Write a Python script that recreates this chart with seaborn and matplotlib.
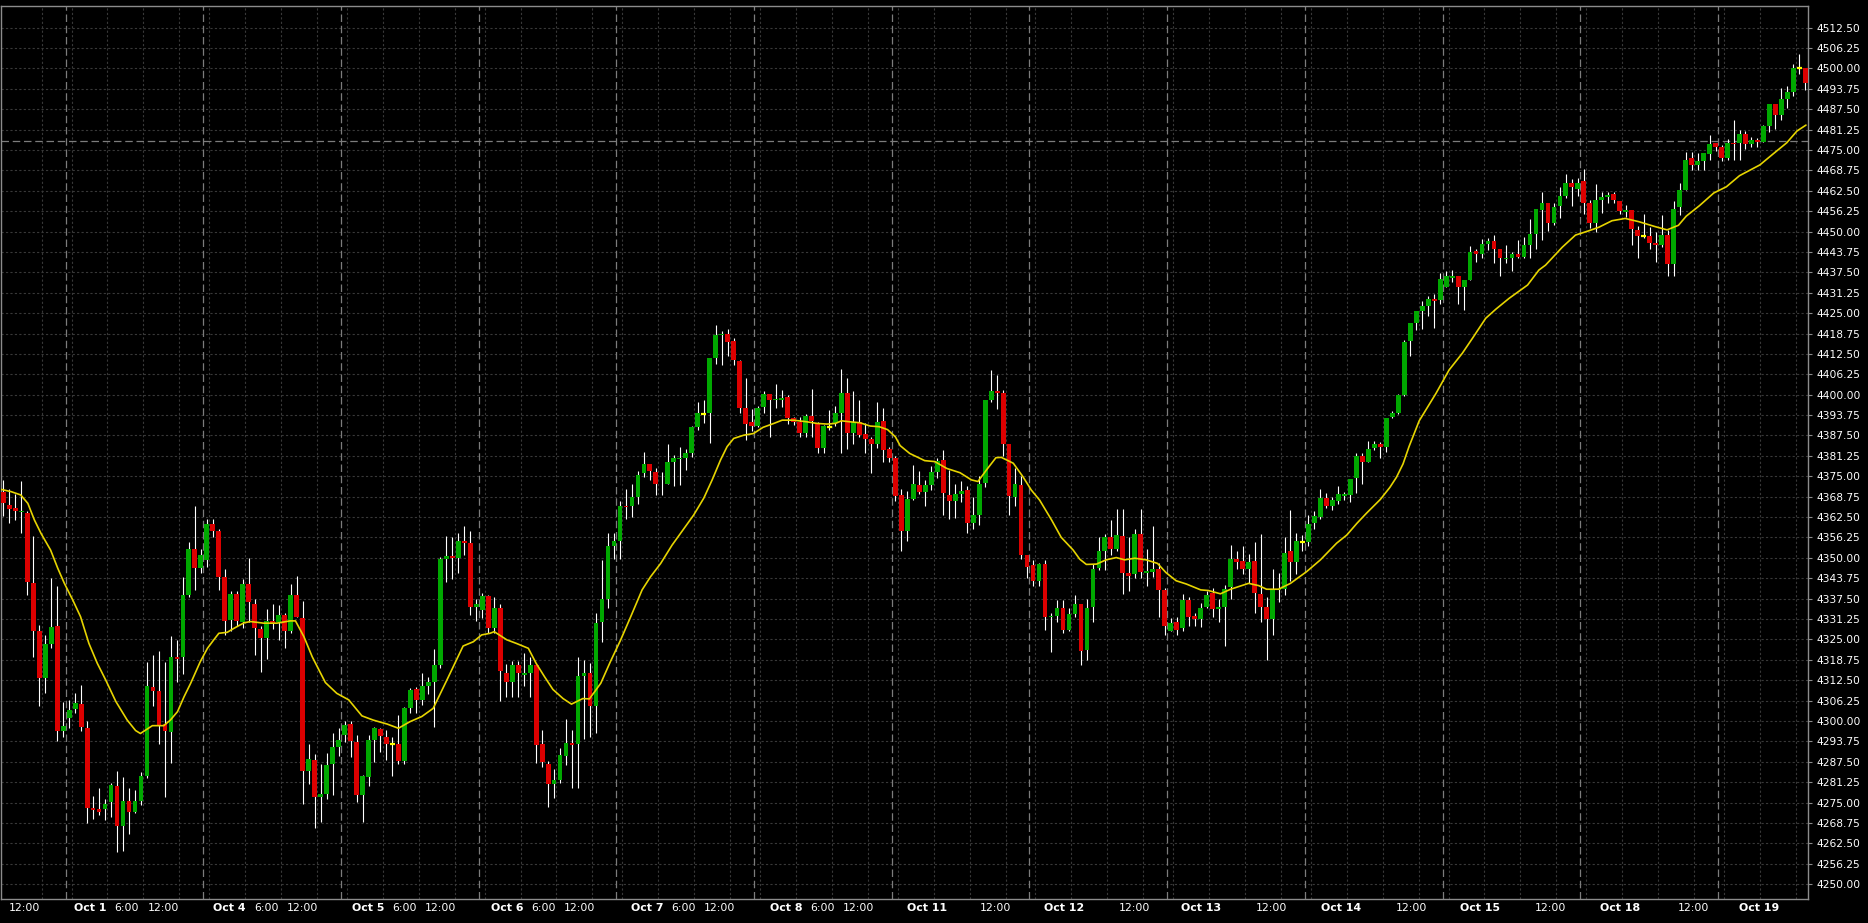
# ============================================================
# HOURLY CANDLES + MOVING AVERAGE (dark terminal style)
# ============================================================

import numpy as np
import pandas as pd
import matplotlib
matplotlib.use("Agg")
import matplotlib.pyplot as plt
import seaborn as sns

# ── 1. DATA (one value per hourly bar) ──
opens = [
    4370.25, 4366.25, 4365.25, 4364.0, 4363.75, 4342.25, 4327.5, 4313.25, 4323.5, 4329.0,
    4297.0, 4301.0, 4303.75, 4305.25, 4298.0, 4273.5, 4273.0, 4273.0, 4275.25, 4280.0,
    4267.75, 4275.5, 4272.0, 4275.5, 4283.25, 4310.5, 4309.25, 4299.0, 4296.75, 4319.75,
    4319.5, 4338.5, 4352.75, 4347.0, 4349.25, 4360.5, 4358.25, 4344.0, 4331.0, 4339.0,
    4330.5, 4342.0, 4336.0, 4328.25, 4325.5, 4330.75, 4330.25, 4332.5, 4327.5, 4338.75,
    4331.5, 4284.75, 4288.0, 4276.75, 4277.75, 4286.75, 4292.0, 4295.75, 4299.0, 4293.5,
    4277.25, 4283.0, 4294.25, 4297.5, 4295.0, 4293.0, 4293.0, 4287.75, 4304.0, 4309.75,
    4306.5, 4310.75, 4312.0, 4317.25, 4349.75, 4350.5, 4350.0, 4355.25, 4354.5, 4335.0,
    4334.0, 4338.25, 4328.5, 4334.75, 4314.75, 4312.0, 4317.25, 4314.0, 4314.75, 4317.25,
    4293.0, 4287.0, 4280.75, 4282.0, 4289.25, 4293.25, 4293.0, 4313.75, 4314.75, 4304.5,
    4330.5, 4337.5, 4353.75, 4355.25, 4366.0, 4365.75, 4368.75, 4376.0, 4378.75, 4376.25,
    4372.5, 4372.75, 4379.25, 4380.25, 4380.5, 4382.0, 4390.0, 4394.0, 4394.25, 4411.25,
    4418.25, 4418.75, 4416.5, 4410.25, 4396.0, 4391.5, 4390.5, 4396.25, 4400.25, 4398.25,
    4398.5, 4399.25, 4392.75, 4391.5, 4388.25, 4393.5, 4391.25, 4383.75, 4390.25, 4391.25,
    4394.25, 4400.5, 4388.25, 4391.5, 4388.0, 4386.5, 4385.0, 4392.0, 4383.25, 4380.75,
    4369.25, 4358.25, 4368.0, 4372.25, 4370.25, 4372.25, 4376.25, 4380.0, 4369.25, 4367.5,
    4369.5, 4370.75, 4360.75, 4363.25, 4373.0, 4398.5, 4401.25, 4400.5, 4385.0, 4368.75,
    4372.25, 4351.0, 4347.75, 4343.0, 4348.25, 4331.75, 4332.25, 4334.75, 4328.0, 4332.75,
    4336.0, 4321.75, 4335.0, 4347.0, 4352.25, 4356.25, 4352.75, 4356.75, 4345.25, 4345.0,
    4357.25, 4345.5, 4345.75, 4346.75, 4340.25, 4327.75, 4330.5, 4328.5, 4337.25, 4332.25,
    4331.25, 4335.0, 4339.25, 4334.25, 4335.0, 4341.0, 4349.75, 4349.0, 4346.75, 4349.0,
    4339.0, 4335.0, 4331.25, 4340.25, 4340.5, 4352.0, 4348.75, 4355.0, 4355.0, 4360.75,
    4362.5, 4368.5, 4365.75, 4367.5, 4369.0, 4369.25, 4374.5, 4381.25, 4379.5, 4383.75,
    4385.0, 4384.0, 4393.25, 4394.5, 4400.0, 4416.5, 4422.0, 4425.75, 4427.25, 4429.25,
    4429.0, 4433.0, 4435.75, 4436.5, 4433.0, 4435.0, 4444.0, 4443.25, 4446.25, 4447.0,
    4444.75, 4441.5, 4442.0, 4443.0, 4442.25, 4445.75, 4449.25, 4456.5, 4458.75, 4452.75,
    4457.75, 4460.75, 4465.0, 4463.0, 4465.5, 4458.75, 4452.75, 4459.75, 4460.5, 4461.5,
    4459.25, 4456.0, 4456.5, 4450.5, 4448.5, 4448.5, 4446.5, 4445.75, 4449.0, 4440.0,
    4457.5, 4462.75, 4472.5, 4470.25, 4471.5, 4473.75, 4477.0, 4475.75, 4472.5, 4477.25,
    4477.0, 4480.0, 4476.75, 4478.0, 4477.5, 4482.25, 4489.0, 4485.75, 4490.5, 4492.75,
    4500.0, 4500.0,
]
highs = [
    4374.0, 4371.0, 4369.5, 4373.5, 4364.25, 4356.75, 4329.5, 4326.5, 4343.75, 4341.5,
    4305.75, 4306.5, 4308.75, 4311.0, 4300.0, 4277.0, 4279.5, 4276.0, 4281.0, 4284.75,
    4283.0, 4279.5, 4279.0, 4284.5, 4318.25, 4320.25, 4321.5, 4318.25, 4326.0, 4324.75,
    4344.25, 4354.75, 4366.0, 4352.75, 4362.0, 4362.0, 4358.75, 4346.75, 4339.75, 4339.75,
    4343.5, 4350.0, 4337.5, 4329.25, 4334.25, 4336.0, 4335.5, 4333.25, 4342.0, 4344.5,
    4336.75, 4293.0, 4290.0, 4286.75, 4290.25, 4296.5, 4297.75, 4300.0, 4300.0, 4295.75,
    4283.5, 4295.75, 4298.25, 4297.75, 4297.25, 4295.0, 4301.75, 4304.25, 4310.0, 4310.5,
    4314.75, 4313.5, 4322.0, 4350.25, 4356.75, 4356.5, 4357.5, 4359.75, 4358.25, 4337.5,
    4339.25, 4338.75, 4338.0, 4336.0, 4317.5, 4318.5, 4318.5, 4321.0, 4319.75, 4317.5,
    4297.25, 4287.75, 4285.25, 4291.75, 4300.75, 4297.25, 4319.5, 4318.75, 4317.75, 4333.0,
    4349.5, 4357.5, 4357.75, 4367.5, 4371.25, 4372.75, 4376.5, 4382.5, 4378.75, 4377.5,
    4376.25, 4384.75, 4381.5, 4384.0, 4383.25, 4390.5, 4397.75, 4398.5, 4411.25, 4421.25,
    4419.5, 4420.25, 4417.25, 4410.75, 4405.0, 4395.75, 4396.5, 4401.25, 4400.25, 4403.25,
    4401.5, 4400.0, 4393.25, 4393.25, 4394.0, 4401.75, 4391.75, 4390.75, 4395.25, 4396.5,
    4407.75, 4405.25, 4401.25, 4398.5, 4391.25, 4387.0, 4397.75, 4396.0, 4384.0, 4381.25,
    4371.25, 4370.5, 4378.5, 4376.75, 4374.0, 4378.25, 4380.5, 4383.0, 4377.0, 4372.75,
    4373.5, 4372.0, 4368.75, 4375.0, 4398.5, 4407.5, 4406.0, 4401.5, 4385.0, 4377.5,
    4375.0, 4351.0, 4349.5, 4348.5, 4349.25, 4333.25, 4337.0, 4337.0, 4334.5, 4338.5,
    4336.0, 4337.5, 4348.25, 4356.5, 4357.25, 4361.5, 4365.0, 4365.0, 4356.5, 4359.0,
    4365.0, 4352.75, 4359.75, 4348.5, 4340.75, 4331.5, 4331.75, 4339.0, 4338.0, 4333.25,
    4336.25, 4339.75, 4340.75, 4337.5, 4341.75, 4354.0, 4352.0, 4353.75, 4351.25, 4355.0,
    4357.25, 4338.0, 4346.5, 4345.25, 4356.5, 4364.75, 4357.75, 4357.0, 4363.25, 4364.5,
    4371.25, 4369.75, 4368.75, 4372.0, 4370.25, 4374.25, 4382.25, 4382.25, 4385.75, 4385.75,
    4385.5, 4393.0, 4395.0, 4400.25, 4416.75, 4422.0, 4425.75, 4428.75, 4430.25, 4430.75,
    4437.25, 4437.75, 4438.25, 4436.5, 4435.0, 4445.5, 4444.5, 4447.75, 4448.0, 4449.0,
    4444.75, 4445.75, 4443.75, 4447.5, 4448.25, 4453.75, 4456.75, 4462.0, 4458.75, 4458.75,
    4463.5, 4467.5, 4466.0, 4466.25, 4469.25, 4459.75, 4464.5, 4462.0, 4462.0, 4462.25,
    4459.25, 4458.25, 4456.5, 4451.75, 4455.25, 4451.25, 4450.0, 4455.0, 4450.5, 4459.25,
    4464.75, 4474.5, 4474.5, 4474.0, 4474.0, 4479.5, 4477.25, 4476.5, 4478.25, 4484.25,
    4481.0, 4480.75, 4479.0, 4478.5, 4482.75, 4489.0, 4489.0, 4494.0, 4494.5, 4501.25,
    4504.5, 4500.0,
]
lows = [
    4362.75, 4360.75, 4361.5, 4357.75, 4338.5, 4319.75, 4304.5, 4308.75, 4322.5, 4294.0,
    4295.0, 4298.0, 4302.5, 4297.0, 4268.75, 4270.0, 4271.25, 4269.75, 4270.75, 4260.0,
    4260.25, 4265.5, 4271.75, 4274.25, 4282.5, 4304.5, 4293.0, 4276.75, 4287.25, 4312.0,
    4314.5, 4338.0, 4340.25, 4345.5, 4347.25, 4356.5, 4340.25, 4326.5, 4327.75, 4329.0,
    4328.5, 4330.25, 4320.25, 4315.0, 4319.0, 4328.25, 4324.75, 4322.5, 4327.0, 4331.75,
    4274.75, 4280.75, 4267.25, 4269.0, 4276.0, 4277.25, 4289.25, 4293.5, 4289.0, 4275.25,
    4269.0, 4280.0, 4287.5, 4290.5, 4288.0, 4283.25, 4287.0, 4287.0, 4302.5, 4302.5,
    4305.0, 4308.25, 4298.25, 4316.25, 4342.75, 4343.5, 4345.5, 4351.0, 4332.5, 4330.75,
    4331.5, 4327.0, 4327.0, 4306.25, 4307.25, 4307.25, 4307.25, 4310.75, 4307.5, 4287.25,
    4286.0, 4273.75, 4276.5, 4281.0, 4286.5, 4279.5, 4279.5, 4294.5, 4295.25, 4296.25,
    4324.25, 4334.5, 4349.75, 4349.75, 4362.0, 4362.5, 4366.5, 4374.75, 4373.75, 4369.25,
    4369.25, 4372.5, 4372.0, 4372.25, 4377.0, 4381.0, 4389.25, 4391.25, 4385.25, 4409.5,
    4409.25, 4411.75, 4409.0, 4394.25, 4386.0, 4388.75, 4390.0, 4394.25, 4387.0, 4396.0,
    4396.25, 4391.0, 4390.75, 4387.0, 4387.0, 4387.0, 4382.0, 4382.0, 4389.25, 4390.5,
    4382.25, 4383.5, 4384.75, 4387.0, 4382.0, 4376.0, 4383.75, 4379.25, 4379.5, 4367.5,
    4352.25, 4355.25, 4367.75, 4369.5, 4366.0, 4370.75, 4374.5, 4363.25, 4362.0, 4362.25,
    4367.0, 4357.75, 4359.0, 4360.0, 4371.75, 4397.75, 4395.5, 4381.25, 4363.25, 4366.0,
    4349.75, 4343.75, 4341.5, 4341.5, 4328.0, 4321.25, 4330.5, 4327.0, 4327.5, 4332.0,
    4317.25, 4318.75, 4330.5, 4346.25, 4346.25, 4351.0, 4352.25, 4339.0, 4339.75, 4343.75,
    4343.75, 4341.25, 4344.25, 4331.75, 4326.5, 4327.5, 4326.5, 4327.75, 4329.0, 4329.0,
    4328.75, 4334.5, 4332.0, 4330.25, 4323.0, 4337.5, 4346.5, 4345.0, 4342.25, 4333.25,
    4330.5, 4318.75, 4326.5, 4336.5, 4338.75, 4343.0, 4345.0, 4352.25, 4353.75, 4359.0,
    4362.0, 4365.25, 4364.75, 4366.5, 4367.75, 4367.25, 4370.0, 4372.75, 4379.5, 4383.0,
    4380.75, 4382.5, 4392.75, 4394.0, 4399.5, 4411.75, 4419.75, 4420.0, 4424.25, 4420.5,
    4427.75, 4433.0, 4434.5, 4427.75, 4426.0, 4435.0, 4440.75, 4441.75, 4444.25, 4440.5,
    4436.25, 4440.5, 4438.0, 4441.75, 4442.0, 4441.75, 4444.75, 4447.5, 4450.25, 4452.0,
    4454.25, 4460.25, 4457.75, 4461.0, 4455.25, 4451.0, 4450.0, 4455.75, 4458.75, 4458.75,
    4455.5, 4454.5, 4445.75, 4441.75, 4448.0, 4444.75, 4440.75, 4445.25, 4436.25, 4436.5,
    4455.0, 4462.75, 4468.75, 4468.75, 4468.75, 4472.0, 4474.75, 4471.5, 4472.0, 4472.0,
    4472.0, 4475.25, 4475.75, 4475.75, 4477.5, 4480.5, 4481.5, 4484.25, 4487.75, 4491.5,
    4498.25, 4493.5,
]
closes = [
    4366.75, 4365.0, 4364.25, 4364.25, 4342.5, 4327.5, 4313.25, 4323.5, 4328.75, 4297.0,
    4298.5, 4303.5, 4305.5, 4298.25, 4273.25, 4272.75, 4272.25, 4274.75, 4280.5, 4267.75,
    4275.5, 4272.25, 4275.5, 4283.25, 4310.75, 4309.25, 4298.75, 4297.0, 4319.5, 4319.0,
    4338.5, 4352.75, 4347.0, 4351.0, 4360.5, 4358.25, 4344.0, 4330.75, 4339.0, 4330.75,
    4342.0, 4336.5, 4328.5, 4325.5, 4330.75, 4330.0, 4332.5, 4327.5, 4338.5, 4332.0,
    4284.75, 4288.5, 4276.75, 4277.75, 4286.5, 4292.0, 4294.25, 4298.75, 4293.75, 4277.25,
    4283.25, 4294.25, 4297.75, 4295.5, 4293.0, 4293.0, 4287.75, 4304.0, 4309.5, 4306.5,
    4310.75, 4312.0, 4317.25, 4349.75, 4350.5, 4350.0, 4355.25, 4354.5, 4335.0, 4336.0,
    4338.25, 4328.5, 4334.75, 4315.25, 4312.0, 4317.25, 4314.75, 4314.75, 4317.25, 4292.75,
    4287.5, 4280.75, 4282.0, 4289.5, 4293.25, 4292.75, 4313.75, 4314.75, 4304.5, 4330.0,
    4337.5, 4353.75, 4355.25, 4366.0, 4365.5, 4368.75, 4375.5, 4378.75, 4376.5, 4372.75,
    4372.75, 4379.25, 4380.5, 4380.5, 4382.0, 4390.0, 4394.25, 4394.0, 4411.25, 4418.25,
    4418.75, 4416.25, 4410.75, 4396.0, 4391.0, 4390.5, 4396.0, 4400.25, 4398.5, 4398.75,
    4399.0, 4392.75, 4391.5, 4388.25, 4393.5, 4392.0, 4383.75, 4390.5, 4390.25, 4394.25,
    4400.5, 4388.25, 4391.75, 4387.75, 4386.5, 4385.0, 4391.75, 4383.0, 4380.75, 4369.0,
    4358.25, 4368.0, 4372.75, 4370.25, 4372.25, 4376.25, 4379.75, 4369.75, 4367.5, 4369.5,
    4370.5, 4360.75, 4363.25, 4372.75, 4398.5, 4401.25, 4400.5, 4385.0, 4369.0, 4372.75,
    4351.0, 4347.25, 4343.0, 4348.25, 4332.0, 4332.25, 4334.75, 4328.0, 4332.75, 4336.0,
    4321.5, 4334.5, 4346.75, 4352.25, 4356.25, 4352.75, 4357.0, 4345.25, 4344.5, 4357.25,
    4345.75, 4346.0, 4346.75, 4340.25, 4329.0, 4330.0, 4328.0, 4337.25, 4332.0, 4331.25,
    4334.75, 4338.75, 4334.25, 4335.0, 4340.5, 4349.75, 4348.75, 4346.75, 4348.75, 4339.25,
    4335.0, 4331.25, 4340.25, 4340.5, 4351.5, 4348.75, 4355.25, 4355.0, 4360.5, 4362.75,
    4368.5, 4365.75, 4367.75, 4369.5, 4369.5, 4374.25, 4381.25, 4379.5, 4383.5, 4385.0,
    4384.0, 4392.75, 4394.25, 4400.0, 4416.25, 4422.0, 4425.75, 4427.25, 4429.25, 4428.75,
    4435.5, 4436.25, 4436.5, 4433.0, 4435.0, 4443.75, 4443.25, 4446.25, 4447.0, 4444.75,
    4441.75, 4442.0, 4443.0, 4442.25, 4445.75, 4449.25, 4456.75, 4458.75, 4452.75, 4457.5,
    4460.75, 4465.0, 4463.5, 4465.0, 4458.75, 4452.75, 4459.75, 4460.5, 4461.25, 4459.75,
    4456.25, 4456.5, 4450.75, 4448.5, 4448.5, 4446.5, 4445.75, 4449.0, 4440.0, 4457.0,
    4462.75, 4472.0, 4470.25, 4471.5, 4474.0, 4476.75, 4476.0, 4472.5, 4477.25, 4476.75,
    4479.75, 4476.75, 4478.0, 4477.5, 4482.25, 4489.0, 4485.75, 4490.5, 4492.75, 4500.0,
    4500.0, 4495.5,
]

# moving average line, sampled along its path (bar index, price)
ma_bar = [
    -0.4, 1.3, 2.9, 4.1, 5.2, 6.3, 7.9, 9.1, 10.2, 11.6,
    12.9, 14.3, 15.7, 17.1, 18.8, 20.7, 22.1, 22.9, 24.9, 26.8,
    27.9, 29.1, 30.2, 31.3, 32.9, 34.1, 35.2, 36.0, 37.4, 38.5,
    40.2, 41.3, 43.5, 45.7, 47.9, 48.8, 50.2, 51.6, 53.8, 55.7,
    57.7, 59.9, 61.8, 64.1, 66.0, 67.9, 69.9, 71.8, 74.1, 76.8,
    78.5, 79.9, 81.3, 82.0, 84.1, 85.7, 87.7, 89.0, 90.4, 91.8,
    93.5, 94.9, 96.8, 97.9, 99.8, 101.4, 103.1, 104.8, 106.7, 108.1,
    109.8, 111.7, 113.7, 115.3, 117.0, 118.4, 119.8, 120.9, 122.0, 123.7,
    125.3, 126.9, 128.7, 130.1, 132.0, 134.2, 135.9, 137.6, 139.0, 140.0,
    141.4, 143.1, 144.8, 146.3, 147.7, 149.0, 149.8, 151.4, 153.9, 155.6,
    157.6, 159.8, 161.7, 162.8, 164.2, 165.8, 166.7, 168.7, 170.3, 171.7,
    173.1, 175.1, 176.7, 178.7, 179.8, 180.9, 182.6, 184.2, 185.9, 187.3,
    189.0, 190.9, 192.8, 194.2, 195.9, 197.6, 200.0, 201.3, 203.3, 205.0,
    208.0, 209.7, 211.0, 213.0, 215.0, 217.7, 220.0, 222.7, 224.4, 226.1,
    227.7, 230.0, 231.6, 232.7, 233.8, 234.8, 236.5, 237.6, 239.3, 241.5,
    243.7, 245.4, 247.6, 249.3, 251.5, 254.6, 256.5, 257.6, 260.4, 262.6,
    264.8, 266.5, 268.7, 270.9, 273.2, 275.9, 277.9, 279.8, 281.1, 283.3,
    285.7, 287.8, 290.0, 293.4, 295.7, 297.9, 299.6, 301.1,
]
ma_val = [
    4371.0, 4370.3, 4369.3, 4366.7, 4361.6, 4357.5, 4352.4, 4346.8, 4342.2, 4337.1,
    4332.0, 4323.8, 4317.7, 4312.6, 4306.0, 4300.3, 4297.1, 4296.2, 4298.6, 4298.6,
    4300.3, 4302.9, 4307.5, 4311.6, 4318.2, 4322.3, 4325.0, 4326.9, 4327.2, 4328.4,
    4330.1, 4330.5, 4330.0, 4330.0, 4330.7, 4330.7, 4325.9, 4319.7, 4311.8, 4308.5,
    4306.5, 4301.6, 4300.3, 4299.1, 4297.8, 4299.8, 4301.4, 4303.9, 4312.6, 4323.0,
    4324.3, 4326.4, 4326.9, 4327.4, 4324.9, 4323.8, 4322.3, 4317.7, 4313.6, 4309.7,
    4306.9, 4305.2, 4306.9, 4306.8, 4311.6, 4318.2, 4324.8, 4332.0, 4340.2, 4344.2,
    4348.3, 4353.9, 4359.0, 4363.1, 4368.3, 4373.9, 4380.0, 4384.1, 4386.6, 4387.6,
    4388.1, 4390.0, 4391.2, 4392.2, 4392.2, 4391.7, 4391.2, 4391.0, 4391.2, 4392.0,
    4391.7, 4391.4, 4390.4, 4390.2, 4389.3, 4387.1, 4384.4, 4382.0, 4379.8, 4379.5,
    4377.4, 4376.1, 4373.9, 4373.4, 4376.9, 4380.7, 4380.8, 4379.0, 4374.9, 4370.8,
    4367.7, 4361.6, 4356.3, 4352.4, 4349.6, 4348.0, 4348.1, 4349.4, 4350.1, 4349.4,
    4349.9, 4349.4, 4348.3, 4345.5, 4343.0, 4342.0, 4340.2, 4340.0, 4339.0, 4340.4,
    4342.2, 4341.5, 4340.4, 4340.4, 4342.2, 4345.8, 4349.4, 4354.5, 4357.0, 4360.6,
    4363.7, 4367.9, 4371.6, 4374.7, 4378.8, 4384.1, 4392.0, 4395.3, 4400.4, 4407.6,
    4412.7, 4417.3, 4423.4, 4426.2, 4429.5, 4433.6, 4438.2, 4439.7, 4445.2, 4448.9,
    4450.2, 4451.3, 4453.3, 4454.0, 4453.0, 4451.5, 4450.5, 4451.9, 4454.7, 4457.9,
    4461.8, 4463.7, 4467.1, 4470.4, 4473.9, 4477.2, 4480.8, 4482.6,
]

# time axis labels and where they sit (bar index)
tick_labels = [
    "12:00", "Oct 1", "6:00", "12:00", "Oct 4", "6:00", "12:00",
    "Oct 5", "6:00", "12:00", "Oct 6", "6:00", "12:00", "Oct 7", "6:00", "12:00",
    "Oct 8", "6:00", "12:00", "Oct 11", "12:00", "Oct 12", "12:00", "Oct 13", "12:00",
    "Oct 14", "12:00", "Oct 15", "12:00", "Oct 18", "12:00", "Oct 19",
]
tick_bars = [
    3.5, 14.5, 20.6, 26.7, 37.8, 43.9, 50.0,
    60.9, 67.0, 73.1, 84.1, 90.2, 96.3, 107.5, 113.6, 119.6,
    130.7, 136.8, 142.9, 154.3, 165.8, 177.2, 189.0, 200.1, 211.9,
    223.4, 235.2, 246.7, 258.5, 270.1, 282.3, 293.3,
]

day_starts = [10.4, 33.4, 56.4, 79.4, 102.4, 125.4, 148.4, 171.4, 194.4,
              217.4, 240.4, 263.4, 286.4]   # period separators
level_price = 4477.6                         # dashed horizontal level

# ── 2. STYLE ────────────────────────────────────────────────
sns.set_theme(style="dark", rc={
    "figure.facecolor": "black",
    "axes.facecolor": "black",
    "axes.edgecolor": "#8c8c8c",
    "axes.linewidth": 1.0,
    "text.color": "white",
    "xtick.color": "white",
    "ytick.color": "#8c8c8c",
})
plt.rcParams["font.family"] = ["DejaVu Sans"]

GREEN = "#00a800"
RED = "#dc0000"
DOJI = "#ffff00"
MA_COL = "#e6d400"
GRID = "#383838"
SEP = "#7c7c7c"

df = pd.DataFrame({"open": opens, "high": highs, "low": lows, "close": closes})
df["bar"] = np.arange(len(df))
up = df[df["close"] > df["open"]]
down = df[df["close"] < df["open"]]
doji = df[df["close"] == df["open"]]

# ── 3. PLOT ─────────────────────────────────────────────────
W, H = 1868, 923
fig = plt.figure(figsize=(W / 100, H / 100), dpi=100)
ax = fig.add_axes([1 / W, (H - 899.3) / H, 1807 / W, (899.3 - 6) / H])
ax.grid(False)

yticks = np.arange(4250, 4512.51, 6.25)
for p in yticks:
    ax.axhline(p, color=GRID, lw=0.8, ls=(0, (2, 2)), zorder=0)
grid_bars = [6.4] + [s + k for s in day_starts for k in (1, 7, 13, 19)]
for b in grid_bars:
    ax.axvline(b, color=GRID, lw=0.8, ls=(0, (2, 2)), zorder=0)
for s in day_starts:
    ax.axvline(s, color=SEP, lw=0.9, ls=(0, (6, 3)), zorder=1)
ax.axhline(level_price, color=SEP, lw=0.9, ls=(0, (6, 3)), zorder=1)

# wicks, then bodies on top
ax.vlines(df["bar"], df["low"], df["high"], color="white", lw=0.8, zorder=2)
ax.bar(up["bar"], up["close"] - up["open"], bottom=up["open"],
       width=0.8, color=GREEN, lw=0, zorder=3)
ax.bar(down["bar"], down["open"] - down["close"], bottom=down["close"],
       width=0.8, color=RED, lw=0, zorder=3)
ax.hlines(doji["open"], doji["bar"] - 0.4, doji["bar"] + 0.4,
          color=DOJI, lw=1.6, zorder=3)

sns.lineplot(x=ma_bar, y=ma_val, color=MA_COL, lw=1.2, ax=ax, zorder=4,
             legend=False)

ax.set_xlim(-0.384, 301.44)
ax.set_ylim(4245.40, 4519.09)

# axes: prices on the right, times along the bottom
ax.yaxis.tick_right()
ax.set_yticks(yticks)
ax.set_yticklabels([f"{p:.2f}" for p in yticks])
ax.tick_params(axis="y", length=3, width=0.8, pad=3, labelsize=7.7,
               labelcolor="white")
ax.set_xticks(tick_bars)
ax.set_xticklabels(tick_labels)
ax.tick_params(axis="x", length=0, pad=3, labelsize=7.8, labelcolor="white")
for lbl in ax.get_xticklabels():
    if lbl.get_text().startswith("Oct"):
        lbl.set_fontweight("bold")
        lbl.set_fontsize(7.9)
ax.set_xlabel("")
ax.set_ylabel("")

fig.savefig("out.png", dpi=100, facecolor="black")
